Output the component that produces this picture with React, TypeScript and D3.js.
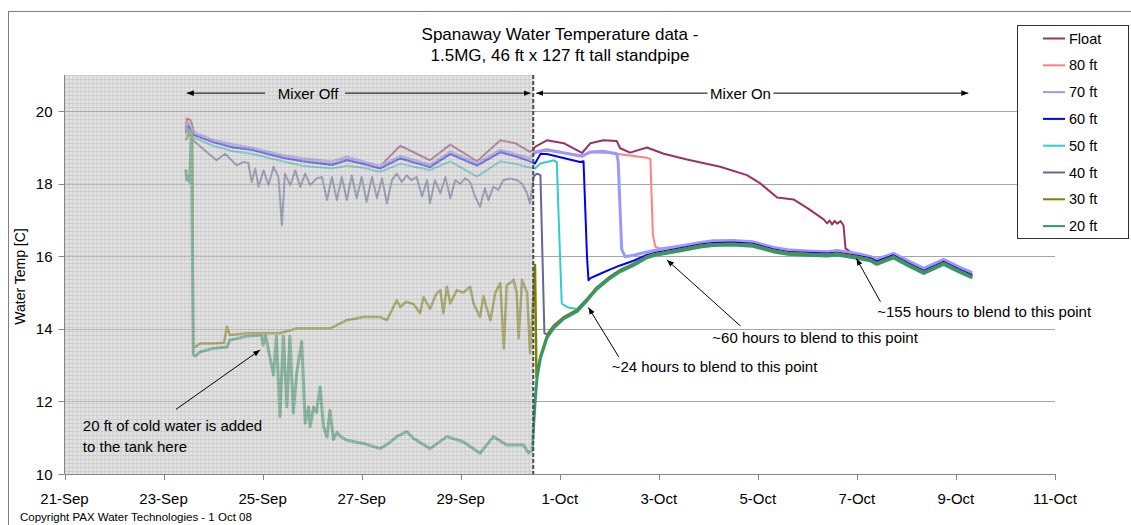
import React from 'react';
import * as d3 from 'd3';

// time is day of September; it runs on past 30 into October (31 = 1-Oct)
type Pt = [number, number];

const seriesNames = ['Float', '80 ft', '70 ft', '60 ft', '50 ft', '40 ft', '30 ft', '20 ft'];
const seriesColors = ['#993366', '#FF8080', '#9999FF', '#0000FF', '#33CCCC', '#666699', '#808000', '#339966'];
const seriesWidths = [2, 2, 3, 2, 2, 2, 2.5, 3];

const floatData: Pt[] = [
  [23.45, 19.55], [23.47, 19.8], [23.55, 19.75], [23.6, 19.5], [23.64, 19.38], [24.0, 19.2], [24.4, 19.05],
  [24.8, 18.98], [25.4, 18.78], [25.8, 18.68], [26.4, 18.6], [26.7, 18.75], [27.0, 18.62], [27.37, 18.48],
  [27.78, 19.05], [28.38, 18.65], [28.79, 19.08], [29.33, 18.62], [29.8, 19.2], [30.1, 19.12], [30.4, 18.88],
  [30.47, 18.95], [30.5, 19.02], [30.74, 19.2], [31.08, 19.12], [31.45, 18.85], [31.62, 19.12], [31.88, 19.2],
  [32.15, 19.18], [32.22, 18.98], [32.42, 18.86], [32.76, 19.0], [33.1, 18.83], [33.57, 18.67], [34.24, 18.47],
  [34.78, 18.24], [35.05, 18.01], [35.39, 17.62], [35.72, 17.57], [36.0, 17.33], [36.33, 17.02], [36.4, 16.91],
  [36.45, 16.99], [36.5, 16.88], [36.55, 16.98], [36.6, 16.9], [36.67, 16.97], [36.73, 16.85], [36.77, 16.22],
  [36.87, 16.12], [37.0, 16.05],
];

const ft80: Pt[] = [
  [23.45, 19.6], [23.5, 19.7], [23.6, 19.45], [23.64, 19.36], [24.0, 19.18], [24.4, 19.02], [24.8, 18.95],
  [25.4, 18.75], [25.8, 18.65], [26.4, 18.55], [26.7, 18.68], [27.0, 18.6], [27.37, 18.45], [27.78, 18.72],
  [28.38, 18.5], [28.79, 18.85], [29.33, 18.52], [29.8, 18.9], [30.1, 18.8], [30.4, 18.68], [30.5, 18.85],
  [30.74, 18.92], [31.45, 18.78], [31.62, 18.87], [32.0, 18.85], [32.3, 18.8], [32.76, 18.72], [32.83, 18.68],
  [32.88, 16.6], [32.93, 16.27], [33.0, 16.22], [33.5, 16.25], [33.84, 16.34], [34.1, 16.38], [34.5, 16.4],
  [34.9, 16.36], [35.3, 16.22], [35.6, 16.15], [36.0, 16.12], [36.4, 16.1], [36.6, 16.13], [37.0, 16.05],
  [37.27, 15.98], [37.4, 15.9], [37.74, 16.05], [38.05, 15.83], [38.35, 15.63], [38.75, 15.88], [39.05, 15.68],
  [39.33, 15.52],
];

const ft70: Pt[] = [
  [23.45, 19.5], [23.5, 19.65], [23.6, 19.4], [23.64, 19.4], [24.0, 19.2], [24.4, 19.08], [24.8, 18.98],
  [25.4, 18.78], [25.8, 18.7], [26.4, 18.6], [26.7, 18.72], [27.0, 18.62], [27.37, 18.48], [27.78, 18.76],
  [28.38, 18.52], [28.79, 18.88], [29.33, 18.56], [29.8, 18.93], [30.1, 18.82], [30.4, 18.7], [30.5, 18.88],
  [30.74, 18.94], [31.45, 18.76], [31.62, 18.88], [31.88, 18.9], [32.15, 18.83], [32.18, 18.6], [32.25, 16.2],
  [32.32, 15.99], [32.49, 16.03], [32.76, 16.12], [33.1, 16.22], [33.5, 16.3], [33.84, 16.38], [34.1, 16.43],
  [34.5, 16.44], [34.9, 16.4], [35.3, 16.25], [35.6, 16.18], [36.0, 16.15], [36.4, 16.13], [36.6, 16.16],
  [37.0, 16.08], [37.27, 16.0], [37.4, 15.92], [37.74, 16.08], [38.05, 15.87], [38.35, 15.67], [38.75, 15.92],
  [39.05, 15.72], [39.33, 15.55],
];

const ft60: Pt[] = [
  [23.45, 19.45], [23.5, 19.6], [23.6, 19.35], [23.64, 19.33], [24.0, 19.15], [24.4, 19.0], [24.8, 18.93],
  [25.4, 18.72], [25.8, 18.62], [26.4, 18.52], [26.7, 18.65], [27.0, 18.56], [27.37, 18.42], [27.78, 18.7],
  [28.38, 18.46], [28.79, 18.82], [29.33, 18.5], [29.8, 18.87], [30.1, 18.76], [30.4, 18.62], [30.5, 18.56],
  [30.61, 18.82], [30.74, 18.82], [31.41, 18.6], [31.48, 18.62], [31.55, 16.0], [31.58, 15.34], [31.62, 15.4],
  [31.75, 15.48], [32.02, 15.64], [32.22, 15.75], [32.49, 15.88], [32.76, 16.04], [32.9, 16.09], [33.5, 16.24],
  [33.84, 16.33], [34.1, 16.37], [34.5, 16.38], [34.9, 16.35], [35.3, 16.2], [35.6, 16.12], [36.0, 16.1],
  [36.4, 16.08], [36.6, 16.1], [37.0, 16.02], [37.27, 15.95], [37.4, 15.86], [37.74, 16.03], [38.05, 15.8],
  [38.35, 15.6], [38.75, 15.85], [39.05, 15.65], [39.33, 15.48],
];

const ft50: Pt[] = [
  [23.45, 19.35], [23.5, 19.5], [23.6, 19.3], [23.64, 19.26], [24.0, 19.05], [24.4, 18.9], [24.8, 18.82],
  [25.4, 18.62], [25.8, 18.5], [26.4, 18.42], [26.7, 18.5], [27.0, 18.45], [27.37, 18.33], [27.78, 18.55],
  [28.38, 18.38], [28.79, 18.62], [29.33, 18.2], [29.8, 18.62], [30.1, 18.55], [30.4, 18.45], [30.5, 18.42],
  [30.61, 18.56], [30.88, 18.65], [30.94, 18.6], [30.98, 17.0], [31.04, 14.7], [31.15, 14.6], [31.35, 14.55],
  [31.55, 14.83], [31.75, 15.15], [32.02, 15.45], [32.22, 15.63], [32.49, 15.8], [32.76, 16.0], [32.9, 16.06],
  [33.5, 16.21], [33.84, 16.3], [34.1, 16.34], [34.5, 16.35], [34.9, 16.32], [35.3, 16.17], [35.6, 16.1],
  [36.0, 16.07], [36.4, 16.05], [36.6, 16.08], [37.0, 15.99], [37.27, 15.92], [37.4, 15.82], [37.74, 16.0],
  [38.05, 15.77], [38.35, 15.57], [38.75, 15.82], [39.05, 15.62], [39.33, 15.45],
];

const ft40: Pt[] = [
  [23.45, 19.4], [23.47, 19.61], [23.55, 19.29], [23.64, 19.15], [23.87, 18.88], [24.07, 18.65], [24.24, 18.83],
  [24.41, 18.6], [24.48, 18.51], [24.61, 18.6], [24.71, 18.58], [24.78, 18.05], [24.85, 18.42], [24.92, 17.92],
  [25.02, 18.37], [25.12, 17.96], [25.22, 18.47], [25.32, 18.19], [25.39, 16.86], [25.45, 18.28], [25.56, 17.96],
  [25.66, 18.37], [25.76, 17.91], [25.86, 18.28], [25.96, 17.96], [26.09, 18.15], [26.2, 18.19], [26.3, 17.55],
  [26.4, 18.19], [26.5, 17.55], [26.6, 18.19], [26.7, 17.55], [26.8, 18.23], [26.9, 17.6], [27.0, 18.19],
  [27.1, 17.5], [27.21, 18.19], [27.31, 17.6], [27.41, 18.15], [27.51, 17.46], [27.61, 18.1], [27.71, 18.28],
  [27.81, 18.05], [27.91, 18.23], [28.01, 18.1], [28.11, 18.19], [28.22, 17.65], [28.32, 18.1], [28.38, 17.46],
  [28.48, 18.1], [28.59, 17.74], [28.69, 18.19], [28.79, 17.6], [28.89, 18.1], [28.99, 18.0], [29.09, 18.15],
  [29.19, 18.05], [29.29, 17.65], [29.39, 17.37], [29.49, 17.88], [29.56, 17.55], [29.66, 17.92], [29.76, 17.83],
  [29.86, 18.1], [30.0, 18.15], [30.14, 18.1], [30.24, 18.0], [30.34, 17.74], [30.4, 17.46], [30.47, 18.2],
  [30.54, 18.28], [30.61, 18.24], [30.69, 13.88], [30.74, 13.85], [30.88, 14.1], [31.08, 14.33], [31.35, 14.53],
  [31.55, 14.83], [31.75, 15.15], [32.02, 15.45], [32.22, 15.63], [32.49, 15.8], [32.76, 16.0], [32.9, 16.06],
  [33.5, 16.21], [33.84, 16.3], [34.1, 16.34], [34.5, 16.35], [34.9, 16.32], [35.3, 16.17], [35.6, 16.1],
  [36.0, 16.07], [36.4, 16.05], [36.6, 16.08], [37.0, 15.99], [37.27, 15.92], [37.4, 15.82], [37.74, 16.0],
  [38.05, 15.77], [38.35, 15.57], [38.75, 15.82], [39.05, 15.62], [39.33, 15.45],
];

const ft30: Pt[] = [
  [23.45, 19.2], [23.52, 19.4], [23.58, 19.3], [23.6, 13.6], [23.64, 13.5], [23.74, 13.6], [24.0, 13.6],
  [24.22, 13.62], [24.28, 14.06], [24.34, 13.83], [24.68, 13.88], [25.35, 13.88], [25.69, 14.01], [26.36, 14.01],
  [26.7, 14.24], [27.04, 14.33], [27.37, 14.33], [27.51, 14.24], [27.64, 14.6], [27.71, 14.79], [27.78, 14.6],
  [27.9, 14.75], [28.05, 14.68], [28.18, 14.43], [28.25, 14.88], [28.38, 14.55], [28.5, 14.95], [28.59, 15.07],
  [28.65, 14.43], [28.72, 15.16], [28.79, 14.7], [28.92, 15.07], [29.05, 15.0], [29.19, 15.16], [29.26, 14.7],
  [29.39, 14.33], [29.46, 14.9], [29.53, 14.55], [29.6, 14.24], [29.7, 15.0], [29.8, 15.26], [29.87, 13.46],
  [29.93, 15.2], [30.07, 15.35], [30.13, 15.0], [30.17, 13.74], [30.24, 15.35], [30.34, 15.0], [30.4, 13.33],
  [30.45, 14.5], [30.5, 15.76], [30.53, 12.68], [30.61, 13.25], [30.74, 13.8], [30.88, 14.08], [31.08, 14.31],
  [31.35, 14.51], [31.55, 14.81], [31.75, 15.13], [32.02, 15.43], [32.22, 15.61], [32.49, 15.78], [32.76, 15.99],
  [32.9, 16.05], [33.5, 16.2], [33.84, 16.29], [34.1, 16.33], [34.5, 16.34], [34.9, 16.31], [35.3, 16.16],
  [35.6, 16.09], [36.0, 16.06], [36.4, 16.04], [36.6, 16.07], [37.0, 15.98], [37.27, 15.91], [37.4, 15.81],
  [37.74, 15.99], [38.05, 15.76], [38.35, 15.56], [38.75, 15.81], [39.05, 15.61], [39.33, 15.44],
];

const ft20: Pt[] = [
  [23.45, 18.4], [23.47, 18.1], [23.5, 18.2], [23.53, 18.05], [23.56, 19.45], [23.6, 13.3], [23.64, 13.25],
  [23.74, 13.37], [24.0, 13.46], [24.28, 13.5], [24.34, 13.69], [24.68, 13.8], [24.98, 13.83], [25.01, 13.55],
  [25.06, 13.82], [25.22, 12.73], [25.28, 13.8], [25.35, 11.58], [25.42, 13.8], [25.49, 11.85], [25.55, 13.8],
  [25.62, 11.68], [25.69, 12.8], [25.79, 13.65], [25.86, 11.4], [25.93, 11.85], [25.96, 11.3], [26.03, 11.85],
  [26.09, 11.7], [26.16, 12.4], [26.23, 11.3], [26.3, 11.02], [26.36, 11.76], [26.43, 10.95], [26.5, 11.15],
  [26.56, 11.05], [26.7, 10.93], [27.04, 10.84], [27.37, 10.7], [27.55, 10.85], [27.71, 11.03], [27.91, 11.17],
  [28.05, 10.98], [28.38, 10.7], [28.72, 11.03], [29.05, 10.89], [29.39, 10.57], [29.66, 11.03], [29.93, 10.8],
  [30.27, 10.8], [30.37, 10.58], [30.44, 10.65], [30.47, 11.3], [30.5, 11.95], [30.54, 12.65], [30.61, 13.2],
  [30.74, 13.75], [30.88, 14.03], [31.08, 14.28], [31.35, 14.48], [31.55, 14.78], [31.75, 15.1], [32.02, 15.4],
  [32.22, 15.58], [32.49, 15.75], [32.76, 15.96], [32.9, 16.02], [33.5, 16.17], [33.84, 16.26], [34.1, 16.3],
  [34.5, 16.31], [34.9, 16.28], [35.3, 16.13], [35.6, 16.06], [36.0, 16.03], [36.4, 16.01], [36.6, 16.04],
  [37.0, 15.95], [37.27, 15.88], [37.4, 15.78], [37.74, 15.96], [38.05, 15.73], [38.35, 15.53], [38.75, 15.78],
  [39.05, 15.58], [39.33, 15.41],
];

const allSeries = [floatData, ft80, ft70, ft60, ft50, ft40, ft30, ft20];

const xTickDays = [21, 23, 25, 27, 29, 31, 33, 35, 37, 39, 41];
const yTicks = [10, 12, 14, 16, 18, 20];
const mixerSwitch = 30.465;

const notes = [
  { lines: ['~24 hours to blend to this point'], head: [31.58, 14.59], tail: [32.19, 13.23], at: [32.05, 12.96] },
  { lines: ['~60 hours to blend to this point'], head: [33.165, 15.9], tail: [34.65, 14.08], at: [34.08, 13.75] },
  { lines: ['~155 hours to blend to this point'], head: [36.99, 15.94], tail: [37.475, 14.75], at: [37.41, 14.47] },
  { lines: ['20 ft of cold water is added', 'to the tank here'], head: [24.95, 13.42], tail: [23.25, 11.78], at: [21.37, 11.35] },
];

const toDate = (d: number) => new Date(Date.UTC(2008, 8, 1) + (d - 1) * 864e5);
const font = 'Liberation Sans, Arial, sans-serif';

export default function App() {
  const W = 1131, H = 525;
  const x = d3.scaleUtc().domain([toDate(21), toDate(41)]).range([64.5, 1055]);
  const y = d3.scaleLinear().domain([10, 21]).range([474, 75]);
  const fmt = d3.utcFormat('%-d-%b');
  const line = d3.line<Pt>().x(d => x(toDate(d[0]))).y(d => y(d[1]));
  const xd = (d: number) => x(toDate(d));

  const left = x.range()[0], right = x.range()[1];
  const top = y(21), bottom = y(10);
  const switchX = xd(mixerSwitch);
  const arrowY = y(20.5);

  const offStart = xd(23.47), offEnd = xd(30.41), offMid = xd(25.92);
  const onStart = xd(30.525), onEnd = xd(39.25), onMid = xd(34.65);

  return (
    <svg width={W} height={H} style={{ position: 'absolute', left: 0, top: 0, background: '#fff' }} fontFamily={font}>
      <defs>
        <pattern id="fineGrid" x={left} y={top} width={4} height={4} patternUnits="userSpaceOnUse">
          <rect width={4} height={4} fill="#d0d0d0" />
          <path d="M0 0.5H4M0.5 0V4" stroke="#adadad" strokeWidth={1} />
        </pattern>
        <marker id="arrowHead" viewBox="0 0 10 10" refX={10} refY={5} markerWidth={7} markerHeight={7} orient="auto-start-reverse">
          <path d="M0,1 L10,5 L0,9 z" fill="#000" />
        </marker>
      </defs>

      {/* outer chart frame */}
      <rect x={8.5} y={11.5} width={1200} height={600} fill="none" stroke="#7f7f7f" />

      {/* title */}
      <text x={560} y={34} textAnchor="middle" dominantBaseline="central" fontSize={17}>Spanaway Water Temperature data -</text>
      <text x={560} y={55} textAnchor="middle" dominantBaseline="central" fontSize={17}>1.5MG, 46 ft x 127 ft tall standpipe</text>

      {/* major grid */}
      {yTicks.filter(t => t > 10).map(t => (
        <line key={t} x1={left} x2={right} y1={Math.round(y(t)) + 0.5} y2={Math.round(y(t)) + 0.5} stroke="#a6a6a6" />
      ))}

      {/* series */}
      {allSeries.map((s, i) => (
        <path key={seriesNames[i]} d={line(s) || ''} fill="none" stroke={seriesColors[i]}
          strokeWidth={seriesWidths[i]} strokeLinejoin="round" />
      ))}

      {/* mixer-off shading */}
      <rect x={left} y={top} width={switchX - left} height={bottom - top} fill="url(#fineGrid)" opacity={0.6} />
      <line x1={switchX} x2={switchX} y1={top} y2={bottom} stroke="#4d4d4d" strokeWidth={2} strokeDasharray="4 2" />

      {/* axes */}
      <line x1={left} x2={left} y1={top} y2={bottom} stroke="#868686" />
      <line x1={left} x2={right} y1={Math.round(bottom) + 0.5} y2={Math.round(bottom) + 0.5} stroke="#868686" />
      {yTicks.map(t => (
        <g key={t}>
          <line x1={left - 6} x2={left} y1={Math.round(y(t)) + 0.5} y2={Math.round(y(t)) + 0.5} stroke="#868686" />
          <text x={left - 12} y={y(t)} textAnchor="end" dominantBaseline="central" fontSize={15}>{t}</text>
        </g>
      ))}
      {xTickDays.map(d => (
        <g key={d}>
          <line x1={Math.round(xd(d)) + 0.5} x2={Math.round(xd(d)) + 0.5} y1={bottom} y2={bottom + 6} stroke="#868686" />
          <text x={xd(d)} y={498} textAnchor="middle" dominantBaseline="central" fontSize={15}>{fmt(toDate(d))}</text>
        </g>
      ))}
      <text transform={`translate(20,${(top + bottom) / 2 + 2}) rotate(-90)`} textAnchor="middle" dominantBaseline="central" fontSize={14}>Water Temp [C]</text>

      {/* mixer off / on arrows */}
      <line x1={offMid - 43} x2={offStart} y1={arrowY} y2={arrowY} stroke="#000" markerEnd="url(#arrowHead)" />
      <line x1={offMid + 37} x2={offEnd} y1={arrowY} y2={arrowY} stroke="#000" markerEnd="url(#arrowHead)" />
      <text x={offMid} y={arrowY} textAnchor="middle" dominantBaseline="central" fontSize={15}>Mixer Off</text>
      <line x1={onMid - 33} x2={onStart} y1={arrowY} y2={arrowY} stroke="#000" markerEnd="url(#arrowHead)" />
      <line x1={onMid + 33} x2={onEnd} y1={arrowY} y2={arrowY} stroke="#000" markerEnd="url(#arrowHead)" />
      <text x={onMid} y={arrowY} textAnchor="middle" dominantBaseline="central" fontSize={15}>Mixer On</text>

      {/* annotations */}
      {notes.map((n, i) => (
        <g key={i}>
          <line x1={xd(n.tail[0])} y1={y(n.tail[1])} x2={xd(n.head[0])} y2={y(n.head[1])} stroke="#000" markerEnd="url(#arrowHead)" />
          {n.lines.map((l, j) => (
            <text key={j} x={xd(n.at[0])} y={y(n.at[1]) + j * 21} dominantBaseline="central" fontSize={15}>{l}</text>
          ))}
        </g>
      ))}

      {/* legend */}
      <rect x={1017.5} y={25.5} width={111} height={213} fill="#fff" stroke="#333" />
      {seriesNames.map((nm, i) => (
        <g key={nm} transform={`translate(0,${38.5 + i * 26.8})`}>
          <line x1={1043} x2={1065} y1={0} y2={0} stroke={seriesColors[i]} strokeWidth={2} />
          <text x={1069} y={0} dominantBaseline="central" fontSize={14.5}>{nm}</text>
        </g>
      ))}

      <text x={20} y={517} dominantBaseline="central" fontSize={11.5}>Copyright PAX Water Technologies - 1 Oct 08</text>
    </svg>
  );
}
